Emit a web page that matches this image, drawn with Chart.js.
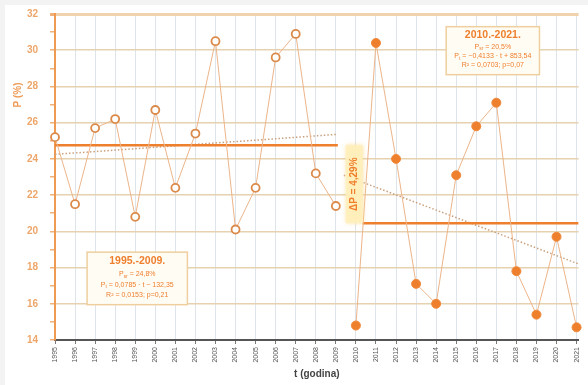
<!DOCTYPE html>
<html>
<head>
<meta charset="utf-8">
<script src="https://cdn.jsdelivr.net/npm/chart.js@4.4.1/dist/chart.umd.min.js"></script>
<style>
  html, body { margin: 0; padding: 0; background: #fff; overflow: hidden; }
  #wrap { width: 588px; height: 389px; margin-top: -4px; }
</style>
</head>
<body>
<div id="wrap"><canvas id="chart"></canvas></div>
<script>
// data
const yearsA = [1995, 1996, 1997, 1998, 1999, 2000, 2001, 2002, 2003, 2004, 2005, 2006, 2007, 2008, 2009];
const valuesA = [25.2, 21.5, 25.7, 26.2, 20.8, 26.7, 22.4, 25.4, 30.5, 20.1, 22.4, 29.6, 30.9, 23.2, 21.4];
const yearsB = [2010, 2011, 2012, 2013, 2014, 2015, 2016, 2017, 2018, 2019, 2020, 2021];
const valuesB = [14.8, 30.4, 24.0, 17.1, 16.0, 23.1, 25.8, 27.1, 17.8, 15.4, 19.7, 14.7];

// mean levels and their x extent
const meanA = 24.75;
const meanB = 20.45;
const meanAx = [1995, 2009.1];
const meanBx = [2010.33, 2021.1];

// regression lines (end points)
const trendAx = [1995, 2009];
const trendAy = [24.25, 25.35];
const trendBx = [2009.4, 2021.1];
const trendBy = [23.1, 18.2];

// axis ticks
const xTicks = yearsA.concat(yearsB);
const yTicks = [14, 15, 16, 17, 18, 19, 20, 21, 22, 23, 24, 25, 26, 27, 28, 29, 30, 31, 32];

const boxA = ['1995.-2009.', '24,8%', '0,0785 · t − 132,35', 'R² = 0,0153; p=0,21'];
const boxB = ['2010.-2021.', '20,5%', '−0,4133 · t + 853,54', 'R² = 0,0703; p=0,07'];
const deltaLabel = 'ΔP = 4,29%';

const ORANGE = '#ee7f2d';
const FONT = "'Liberation Sans', Arial, sans-serif";

function pts(xs, ys) {
    return xs.map((x, i) => ({ x: x, y: ys[i] }));
}

// text with subscript parts, centered on cx
function drawRich(ctx, parts, cx, y, size, color) {
    let total = 0;
    parts.forEach(p => {
        ctx.font = (p.sub ? size * 0.7 : size) + 'px ' + FONT;
        p.w = ctx.measureText(p.t).width;
        total += p.w;
    });
    let x = cx - total / 2;
    ctx.fillStyle = color;
    ctx.textAlign = 'left';
    ctx.textBaseline = 'middle';
    parts.forEach(p => {
        ctx.font = (p.sub ? size * 0.7 : size) + 'px ' + FONT;
        ctx.fillText(p.t, x, p.sub ? y + size * 0.3 : y);
        x += p.w;
    });
}

function drawBox(chart, lines, x0, x1, y0, y1) {
    const ctx = chart.ctx;
    const xs = chart.scales.x, ys = chart.scales.y;
    const l = xs.getPixelForValue(x0), r = xs.getPixelForValue(x1);
    const t = ys.getPixelForValue(y0), b = ys.getPixelForValue(y1);
    ctx.save();
    ctx.fillStyle = '#fffcf4';
    ctx.strokeStyle = '#efcf9e';
    ctx.lineWidth = 1.5;
    ctx.fillRect(l, t, r - l, b - t);
    ctx.strokeRect(l, t, r - l, b - t);
    const cx = (l + r) / 2;
    const h = b - t;
    ctx.font = 'bold 10.5px ' + FONT;
    ctx.fillStyle = ORANGE;
    ctx.textAlign = 'center';
    ctx.textBaseline = 'middle';
    ctx.fillText(lines[0], cx, t + h * 0.17);
    drawRich(ctx, [{ t: 'P' }, { t: 'sr', sub: true }, { t: ' = ' + lines[1] }], cx, t + h * 0.42, 7, ORANGE);
    drawRich(ctx, [{ t: 'P' }, { t: 't', sub: true }, { t: ' = ' + lines[2] }], cx, t + h * 0.62, 7, ORANGE);
    drawRich(ctx, [{ t: lines[3] }], cx, t + h * 0.81, 7, ORANGE);
    ctx.restore();
}

const decorPlugin = {
    id: 'decor',
    beforeDraw(chart) {
        const ctx = chart.ctx;
        ctx.save();
        ctx.fillStyle = '#f3f3f3';
        ctx.fillRect(0, 0, chart.width, chart.height);
        ctx.fillStyle = '#ffffff';
        ctx.fillRect(5, 9, chart.width - 5, chart.height - 9);
        ctx.restore();
    },
    afterDatasetsDraw(chart) {
        const ctx = chart.ctx;
        const xs = chart.scales.x, ys = chart.scales.y;

        // delta box between the two means
        const l = xs.getPixelForValue(2009.5), r = xs.getPixelForValue(2010.33);
        const t = ys.getPixelForValue(meanA), b = ys.getPixelForValue(meanB);
        ctx.save();
        ctx.fillStyle = 'rgba(255, 240, 190, 0.9)';
        ctx.shadowColor = 'rgba(255, 220, 140, 0.9)';
        ctx.shadowBlur = 4;
        ctx.fillRect(l, t, r - l, b - t);
        ctx.shadowBlur = 0;
        ctx.translate((l + r) / 2, (t + b) / 2);
        ctx.rotate(-Math.PI / 2);
        ctx.font = 'bold 10px ' + FONT;
        ctx.fillStyle = ORANGE;
        ctx.textAlign = 'center';
        ctx.textBaseline = 'middle';
        ctx.fillText(deltaLabel, 0, 0);
        ctx.restore();

        drawBox(chart, boxA, 1996.6, 2001.6, 18.85, 15.95);
        drawBox(chart, boxB, 2014.5, 2019.15, 31.3, 28.65);

        // y axis title
        ctx.save();
        ctx.translate(18, 99);
        ctx.rotate(-Math.PI / 2);
        ctx.font = 'bold 10px ' + FONT;
        ctx.fillStyle = '#ee9a55';
        ctx.textAlign = 'center';
        ctx.textBaseline = 'middle';
        ctx.fillText('P (%)', 0, 0);
        ctx.restore();
    }
};

new Chart(document.getElementById('chart'), {
    type: 'line',
    data: {
        datasets: [
            {
                data: pts(yearsB, valuesB),
                borderColor: '#ecb58a',
                borderWidth: 1,
                pointRadius: 4.5,
                pointBackgroundColor: ORANGE,
                pointBorderColor: '#f08a3c',
                pointBorderWidth: 1,
                clip: false
            },
            {
                data: pts(yearsA, valuesA),
                borderColor: '#ecb58a',
                borderWidth: 1,
                pointRadius: 4,
                pointBackgroundColor: '#ffffff',
                pointBorderColor: '#db8a4a',
                pointBorderWidth: 1.8,
                clip: false
            },
            {
                data: pts(meanAx, [meanA, meanA]),
                borderColor: ORANGE,
                borderWidth: 2.5,
                pointRadius: 0
            },
            {
                data: pts(meanBx, [meanB, meanB]),
                borderColor: ORANGE,
                borderWidth: 2.5,
                pointRadius: 0
            },
            {
                data: pts(trendAx, trendAy),
                borderColor: '#c9a07c',
                borderWidth: 1.5,
                borderDash: [1.5, 2],
                pointRadius: 0
            },
            {
                data: pts(trendBx, trendBy),
                borderColor: '#c9a07c',
                borderWidth: 1.5,
                borderDash: [1.5, 2],
                pointRadius: 0
            }
        ]
    },
    options: {
        responsive: true,
        maintainAspectRatio: false,
        animation: false,
        layout: { padding: { top: 5, left: 0, right: 0, bottom: 0 } },
        plugins: {
            legend: { display: false },
            tooltip: { enabled: false }
        },
        scales: {
            x: {
                type: 'linear',
                min: 1995,
                max: 2021.1,
                afterBuildTicks: scale => { scale.ticks = xTicks.map(v => ({ value: v })); },
                afterFit: scale => { scale.height = 45; },
                border: { color: '#555555', width: 2 },
                grid: {
                    color: '#dde4ec',
                    lineWidth: 1,
                    tickLength: 4,
                    tickColor: '#777777'
                },
                ticks: {
                    autoSkip: false,
                    minRotation: 90,
                    maxRotation: 90,
                    padding: 3,
                    color: '#555555',
                    font: { size: 7, family: FONT },
                    callback: v => String(v)
                },
                title: {
                    display: true,
                    text: 't (godina)',
                    color: '#444444',
                    font: { size: 10, weight: 'bold', family: FONT },
                    padding: { top: 0, bottom: 5 }
                }
            },
            y: {
                min: 14,
                max: 32,
                afterBuildTicks: scale => { scale.ticks = yTicks.map(v => ({ value: v })); },
                afterFit: scale => { scale.width = 55; },
                border: { color: '#ef9a52', width: 2 },
                grid: {
                    color: ctx => {
                        const v = ctx.tick.value;
                        if (v % 2 !== 0) return 'rgba(0,0,0,0)';
                        if (v === 32) return '#f0d2ad';
                        return '#e6d1b0';
                    },
                    lineWidth: ctx => (ctx.tick.value === 32 ? 3 : 1.5),
                    tickLength: 5,
                    tickColor: '#efb07a'
                },
                ticks: {
                    padding: 12,
                    color: '#eda66a',
                    font: { size: 10, weight: 'bold', family: FONT },
                    callback: v => (v % 2 === 0 ? String(v) : '')
                }
            }
        }
    },
    plugins: [decorPlugin]
});
</script>
</body>
</html>
